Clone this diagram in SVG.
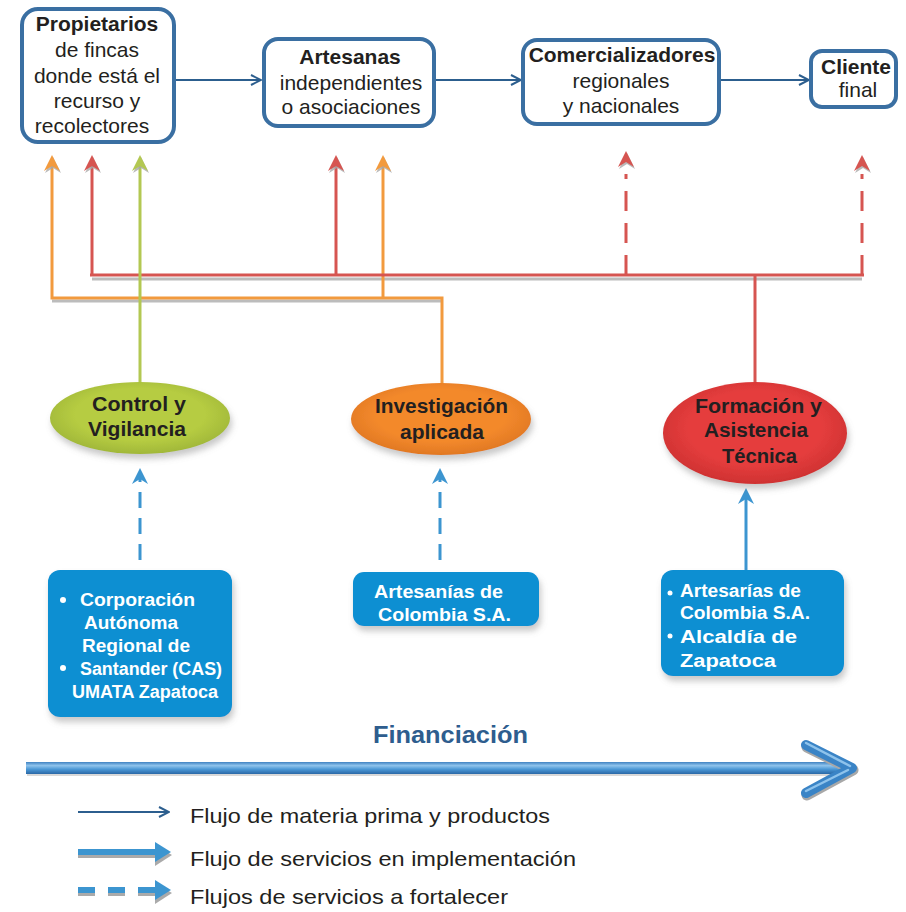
<svg xmlns="http://www.w3.org/2000/svg" width="906" height="912" viewBox="0 0 906 912">
<defs>
<style>
.box{fill:#fff;stroke:#3a6fa2;stroke-width:4}
.t{font-family:"Liberation Sans",Arial,sans-serif;fill:#231f20;text-anchor:middle;font-size:21px}
.b{font-weight:bold}
.et{font-family:"Liberation Sans",Arial,sans-serif;font-weight:bold;fill:#231f20;font-size:20px}
.wt{font-family:"Liberation Sans",Arial,sans-serif;font-weight:bold;fill:#fff;font-size:18px}
.lg{font-family:"Liberation Sans",Arial,sans-serif;fill:#231f20;font-size:21px}
.flow{stroke:#2c5e8e;stroke-width:2;fill:none}
.red{stroke:#d65551;stroke-width:3;fill:none}
.org{stroke:#f29a3e;stroke-width:3;fill:none}
.grn{stroke:#b3c852;stroke-width:3;fill:none}
.sh{stroke:#a0a0a0;stroke-width:3;fill:none;opacity:0.7}
.blue{stroke:#3c95d0;stroke-width:3;fill:none}
.bbox{fill:#0a8fd2}
</style>
<marker id="open" viewBox="0 0 12 12" refX="11" refY="6" markerWidth="12" markerHeight="12" markerUnits="userSpaceOnUse" orient="auto">
<path d="M1,1 L11,6 L1,11" fill="none" stroke="#2c5e8e" stroke-width="2"/>
</marker>
<path id="chev" d="M0,0 L8,16 L0,11 L-8,16 Z"/>
<linearGradient id="bigg" gradientUnits="userSpaceOnUse" x1="0" y1="762" x2="0" y2="774">
<stop offset="0" stop-color="#3f82c2"/>
<stop offset="0.3" stop-color="#8ec3ec"/>
<stop offset="0.6" stop-color="#4b98d6"/>
<stop offset="1" stop-color="#2a68a6"/>
</linearGradient>
<radialGradient id="gG" cx="0.5" cy="0.45" r="0.6">
<stop offset="0.6" stop-color="#b6cc42"/>
<stop offset="1" stop-color="#9bb236"/>
</radialGradient>
<radialGradient id="gO" cx="0.5" cy="0.45" r="0.6">
<stop offset="0.6" stop-color="#f3892c"/>
<stop offset="1" stop-color="#dc7420"/>
</radialGradient>
<radialGradient id="gR" cx="0.5" cy="0.45" r="0.6">
<stop offset="0.6" stop-color="#e53d3d"/>
<stop offset="1" stop-color="#c92f2f"/>
</radialGradient>
<filter id="shadow" x="-10%" y="-10%" width="130%" height="140%">
<feDropShadow dx="2" dy="5" stdDeviation="3" flood-color="#777" flood-opacity="0.4"/>
</filter>
</defs>

<g id="connectors">
<path class="sh" d="M92,279 H862 M52,301 H442"/>
<line class="flow" x1="176" y1="80" x2="261" y2="80" marker-end="url(#open)"/>
<line class="flow" x1="436" y1="80" x2="521" y2="80" marker-end="url(#open)"/>
<line class="flow" x1="721" y1="80" x2="809" y2="80" marker-end="url(#open)"/>
<path class="org" d="M442,385 V298 H52 V166"/>
<line class="org" x1="383" y1="298" x2="383" y2="166"/>
<path class="red" d="M755,385 V275"/>
<line class="red" x1="90" y1="275" x2="864" y2="275" stroke-width="5"/>
<line class="red" x1="92" y1="275" x2="92" y2="166"/>
<line class="red" x1="336" y1="275" x2="336" y2="166"/>
<line class="red" x1="626" y1="275" x2="626" y2="174" stroke-dasharray="20,12"/>
<line class="red" x1="862" y1="275" x2="862" y2="174" stroke-dasharray="20,12"/>
<line class="grn" x1="140" y1="385" x2="140" y2="166"/>
<g fill="#a8a8a8" opacity="0.8">
<use href="#chev" x="53" y="157"/>
<use href="#chev" x="93" y="157"/>
<use href="#chev" x="141" y="157"/>
<use href="#chev" x="337" y="157"/>
<use href="#chev" x="384" y="157"/>
<use href="#chev" x="627" y="153"/>
<use href="#chev" x="863" y="157"/>
</g>
<use href="#chev" x="52" y="155" fill="#f29a3e"/>
<use href="#chev" x="92" y="155" fill="#d65551"/>
<use href="#chev" x="140" y="155" fill="#b3c852"/>
<use href="#chev" x="336" y="155" fill="#d65551"/>
<use href="#chev" x="383" y="155" fill="#f29a3e"/>
<use href="#chev" x="626" y="151" fill="#d65551"/>
<use href="#chev" x="862" y="155" fill="#d65551"/>
<line class="blue" x1="140" y1="560" x2="140" y2="478" stroke-dasharray="16,10"/>
<line class="blue" x1="440" y1="560" x2="440" y2="478" stroke-dasharray="16,10"/>
<line class="blue" x1="746" y1="570" x2="746" y2="498"/>
<use href="#chev" x="140" y="468" fill="#3c95d0"/>
<use href="#chev" x="440" y="468" fill="#3c95d0"/>
<use href="#chev" x="746" y="488" fill="#3c95d0"/>
</g>

<g id="propietarios">
<rect class="box" x="22" y="9" width="152" height="133" rx="16"/>
<text class="t b" x="97" y="31">Propietarios</text>
<text class="t" x="97" y="57">de fincas</text>
<text class="t" x="97" y="83">donde está el</text>
<text class="t" x="97" y="108">recurso y</text>
<text class="t" x="92" y="133">recolectores</text>
</g>
<g id="artesanas">
<rect class="box" x="264" y="39" width="170" height="87" rx="14"/>
<text class="t b" x="350" y="64">Artesanas</text>
<text class="t" x="351" y="90">independientes</text>
<text class="t" x="351" y="114">o asociaciones</text>
</g>
<g id="comercializadores">
<rect class="box" x="523" y="40" width="196" height="84" rx="14"/>
<text class="t b" x="622" y="62" font-size="19">Comercializadores</text>
<text class="t" x="621" y="88">regionales</text>
<text class="t" x="621" y="113">y nacionales</text>
</g>
<g id="cliente">
<rect class="box" x="811" y="51" width="85" height="56" rx="11"/>
<text class="t b" x="856" y="74">Cliente</text>
<text class="t" x="858" y="97">final</text>
</g>

<g id="control">
<ellipse cx="140" cy="418" rx="90" ry="36" fill="url(#gG)" filter="url(#shadow)"/>
<text class="et" x="92" y="411" textLength="94" lengthAdjust="spacingAndGlyphs">Control y</text>
<text class="et" x="88" y="436" textLength="98" lengthAdjust="spacingAndGlyphs">Vigilancia</text>
</g>
<g id="investigacion">
<ellipse cx="441" cy="419" rx="90" ry="36" fill="url(#gO)" filter="url(#shadow)"/>
<text class="et" x="375" y="413" textLength="133" lengthAdjust="spacingAndGlyphs">Investigación</text>
<text class="et" x="400" y="439" textLength="84" lengthAdjust="spacingAndGlyphs">aplicada</text>
</g>
<g id="formacion">
<ellipse cx="755" cy="433" rx="92" ry="51" fill="url(#gR)" filter="url(#shadow)"/>
<text class="et" x="695" y="413" textLength="127" lengthAdjust="spacingAndGlyphs">Formación y</text>
<text class="et" x="704" y="437" textLength="104" lengthAdjust="spacingAndGlyphs">Asistencia</text>
<text class="et" x="722" y="463" textLength="75" lengthAdjust="spacingAndGlyphs">Técnica</text>
</g>

<g id="cas">
<rect class="bbox" x="48" y="570" width="184" height="147" rx="12" filter="url(#shadow)"/>
<circle cx="63" cy="600" r="3" fill="#fff"/>
<text class="wt" x="80" y="606" textLength="115" lengthAdjust="spacingAndGlyphs">Corporación</text>
<text class="wt" x="84" y="629" textLength="94" lengthAdjust="spacingAndGlyphs">Autónoma</text>
<text class="wt" x="82" y="652" textLength="108" lengthAdjust="spacingAndGlyphs">Regional de</text>
<circle cx="63" cy="668" r="3" fill="#fff"/>
<text class="wt" x="80" y="675" textLength="142" lengthAdjust="spacingAndGlyphs">Santander (CAS)</text>
<text class="wt" x="72" y="698" textLength="146" lengthAdjust="spacingAndGlyphs">UMATA Zapatoca</text>
</g>
<g id="artesanias">
<rect class="bbox" x="353" y="572" width="186" height="54" rx="11" filter="url(#shadow)"/>
<text class="wt" x="374" y="598" textLength="129" lengthAdjust="spacingAndGlyphs">Artesanías de</text>
<text class="wt" x="378" y="621" textLength="133" lengthAdjust="spacingAndGlyphs">Colombia S.A.</text>
</g>
<g id="artesarias-alcaldia">
<rect class="bbox" x="661" y="570" width="183" height="106" rx="12" filter="url(#shadow)"/>
<circle cx="670" cy="593" r="2.5" fill="#fff"/>
<text class="wt" x="680" y="597" textLength="121" lengthAdjust="spacingAndGlyphs">Artesarías de</text>
<text class="wt" x="680" y="619" textLength="130" lengthAdjust="spacingAndGlyphs">Colombia S.A.</text>
<circle cx="670" cy="636" r="2.5" fill="#fff"/>
<text class="wt" x="680" y="643" font-size="21" textLength="117" lengthAdjust="spacingAndGlyphs">Alcaldía de</text>
<text class="wt" x="680" y="667" font-size="21" textLength="96" lengthAdjust="spacingAndGlyphs">Zapatoca</text>
</g>

<g id="financiacion">
<text x="373" y="743" font-family="Liberation Sans,Arial,sans-serif" font-weight="bold" font-size="23" fill="#2e5d8e" textLength="155" lengthAdjust="spacingAndGlyphs">Financiación</text>
<rect x="27" y="764" width="823" height="12" fill="#c8c8c8" opacity="0.7"/>
<rect x="26" y="762" width="824" height="12" fill="url(#bigg)"/>
<path d="M806,745 L852,768 L806,793" stroke="#a8a8a8" stroke-width="11" fill="none" stroke-linejoin="round" stroke-linecap="round" transform="translate(1,2)"/>
<path d="M806,745 L852,768 L806,793" stroke="#3a84c6" stroke-width="10" fill="none" stroke-linejoin="round" stroke-linecap="round"/>
<path d="M806,743 L850,766 M806,791 L848,770" stroke="#8ec3ec" stroke-width="2.5" fill="none" stroke-linecap="round"/>
</g>

<g id="legend">
<line class="flow" x1="78" y1="812" x2="169" y2="812" marker-end="url(#open)"/>
<text class="lg" x="190" y="823" textLength="360" lengthAdjust="spacingAndGlyphs">Flujo de materia prima y productos</text>
<line x1="78" y1="855" x2="160" y2="855" stroke="#aaaaaa" stroke-width="6"/>
<path d="M155,845 L172,855 L155,866 Z" fill="#aaaaaa"/>
<line x1="78" y1="852" x2="160" y2="852" stroke="#3c95d0" stroke-width="6"/>
<path d="M155,842 L171,852 L155,862 Z" fill="#3c95d0"/>
<text class="lg" x="190" y="866" textLength="386" lengthAdjust="spacingAndGlyphs">Flujo de servicios en implementación</text>
<line x1="78" y1="893" x2="160" y2="893" stroke="#aaaaaa" stroke-width="6" stroke-dasharray="17,13"/>
<path d="M155,883 L172,893 L155,904 Z" fill="#aaaaaa"/>
<line x1="78" y1="890" x2="160" y2="890" stroke="#3c95d0" stroke-width="6" stroke-dasharray="17,13"/>
<path d="M155,880 L171,890 L155,900 Z" fill="#3c95d0"/>
<text class="lg" x="190" y="904" textLength="318" lengthAdjust="spacingAndGlyphs">Flujos de servicios a fortalecer</text>
</g>
</svg>
